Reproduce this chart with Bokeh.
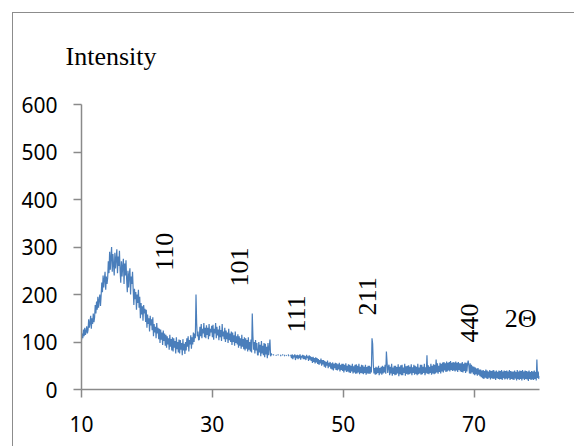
import numpy as np
from bokeh.plotting import figure
from bokeh.models import Range1d, FixedTicker, Label, ColumnDataSource, InlineStyleSheet
from bokeh.core.properties import value
from bokeh.embed import file_html
from bokeh.resources import INLINE

nan = float("nan")

two_theta_start = 10.0
two_theta_step = 0.1
intensity = [
    104, 118, 108, 126, 112, 130, 115, 122, 133, 118,   # 10
    125, 148, 130, 140, 155, 128, 150, 138, 160, 142,   # 11
    152, 178, 160, 185, 168, 195, 172, 188, 200, 176,   # 12
    198, 225, 205, 240, 215, 232, 248, 210, 238, 222,   # 13
    235, 270, 245, 290, 252, 280, 300, 248, 285, 262,   # 14
    240, 288, 255, 275, 295, 245, 280, 260, 292, 250,   # 15
    225, 270, 238, 260, 275, 222, 265, 240, 272, 232,   # 16
    205, 250, 215, 242, 255, 200, 238, 222, 248, 210,   # 17
    178, 212, 190, 205, 168, 200, 182, 210, 172, 195,   # 18
    150, 182, 158, 175, 145, 178, 160, 170, 142, 168,   # 19
    130, 158, 138, 150, 122, 155, 135, 148, 125, 152,   # 20
    112, 138, 120, 132, 108, 140, 118, 130, 106, 128,   # 21
    98, 126, 105, 120, 94, 124, 102, 118, 92, 115,      # 22
    88, 112, 95, 108, 84, 115, 90, 106, 82, 110,        # 23
    80, 108, 88, 102, 76, 110, 85, 100, 78, 105,        # 24
    76, 104, 84, 98, 72, 106, 82, 96, 75, 100,          # 25
    82, 108, 90, 112, 80, 104, 95, 114, 86, 110,        # 26
    95, 120, 100, 118, 108, 200, 140, 112, 122, 104,    # 27
    105, 132, 112, 138, 108, 128, 118, 140, 110, 130,   # 28
    108, 135, 115, 130, 106, 138, 112, 128, 120, 134,   # 29
    110, 136, 105, 128, 118, 140, 108, 132, 114, 126,   # 30
    104, 134, 110, 125, 102, 138, 112, 122, 106, 130,   # 31
    100, 124, 106, 120, 98, 128, 104, 118, 100, 122,    # 32
    94, 120, 100, 114, 92, 122, 98, 112, 95, 116,       # 33
    88, 112, 92, 108, 86, 115, 90, 106, 85, 110,        # 34
    82, 108, 86, 104, 80, 110, 84, 100, 80, 105,        # 35
    78, 160, 112, 84, 100, 76, 104, 82, 98, 74,         # 36
    72, 100, 78, 94, 70, 102, 76, 92, 72, 98,           # 37
    68, 96, 74, 90, 66, 98, 72, 88, 105, 70,            # 38
    76, 72, nan, 74, 72, nan, nan, 73, 71, nan,         # 39
    72, 74, nan, nan, 73, 70, nan, 72, 74, nan,         # 40
    70, 73, nan, 72, 71, nan, 74, 70, nan, 72,          # 41
    72, 66, 74, 64, 72, 68, 74, 62, 72, 66,             # 42
    73, 64, 72, 66, 74, 63, 71, 67, 73, 64,             # 43
    72, 64, 70, 62, 73, 66, 70, 60, 72, 63,             # 44
    70, 60, 68, 56, 69, 58, 66, 55, 68, 57,             # 45
    66, 54, 64, 52, 62, 55, 65, 50, 62, 53,             # 46
    62, 48, 60, 46, 58, 50, 61, 45, 56, 48,             # 47
    58, 44, 55, 42, 57, 40, 54, 45, 56, 41,             # 48
    55, 40, 53, 42, 56, 38, 52, 41, 54, 39,             # 49
    54, 36, 52, 40, 55, 37, 50, 38, 53, 36,             # 50
    52, 35, 50, 38, 54, 34, 49, 36, 52, 33,             # 51
    53, 34, 50, 36, 54, 32, 48, 35, 52, 34,             # 52
    51, 32, 48, 35, 52, 31, 47, 34, 50, 33,             # 53
    50, 33, 48, 36, 108, 96, 52, 34, 45, 31,            # 54
    48, 32, 46, 35, 50, 30, 45, 34, 48, 31,             # 55
    50, 34, 48, 36, 52, 33, 80, 58, 35, 48,             # 56
    52, 30, 48, 34, 54, 29, 46, 33, 50, 30,             # 57
    50, 31, 47, 34, 53, 28, 48, 32, 51, 30,             # 58
    52, 30, 46, 35, 54, 29, 49, 33, 50, 31,             # 59
    51, 32, 48, 34, 53, 30, 47, 35, 52, 31,             # 60
    50, 33, 48, 30, 54, 32, 46, 34, 52, 31,             # 61
    52, 32, 48, 35, 54, 30, 47, 34, 72, 33,             # 62
    51, 32, 48, 35, 54, 31, 50, 34, 53, 32,             # 63
    52, 34, 63, 36, 55, 33, 50, 37, 56, 34,             # 64
    54, 38, 57, 36, 58, 40, 55, 37, 59, 38,             # 65
    56, 40, 58, 38, 60, 41, 56, 39, 58, 40,             # 66
    57, 38, 59, 40, 56, 37, 58, 41, 55, 38,             # 67
    55, 37, 58, 36, 54, 39, 57, 35, 56, 38,             # 68
    54, 61, 50, 34, 55, 33, 52, 36, 49, 32,             # 69
    48, 30, 46, 32, 44, 29, 45, 31, 42, 28,             # 70
    42, 26, 40, 24, 41, 22, 39, 25, 42, 23,             # 71
    40, 22, 38, 25, 41, 21, 39, 24, 40, 22,             # 72
    41, 23, 38, 20, 40, 24, 37, 22, 40, 21,             # 73
    39, 22, 41, 20, 38, 24, 40, 21, 39, 23,             # 74
    40, 21, 38, 24, 41, 20, 39, 22, 38, 21,             # 75
    38, 20, 40, 23, 37, 19, 41, 22, 38, 20,             # 76
    40, 22, 39, 19, 41, 23, 38, 20, 40, 22,             # 77
    39, 21, 38, 18, 40, 22, 37, 20, 39, 21,             # 78
    38, 20, 40, 22, 37, 19, 63, 24, 38, 22,             # 79
    28,                                                 # 80
]
two_theta = two_theta_start + two_theta_step * np.arange(len(intensity))

# peak annotations (Miller indices), anchored at 2-theta / intensity
peak_labels = ["110", "101", "111", "211", "440"]
peak_x = [22.7, 34.2, 42.9, 53.7, 69.3]
peak_y = [250, 217, 120, 156, 99]

x_ticks = [10, 30, 50, 70]
y_ticks = [0, 100, 200, 300, 400, 500, 600]

W, H = 574, 446
p = figure(width=W, height=H, output_backend="svg", toolbar_location=None,
           x_range=Range1d(10, 80), y_range=Range1d(0, 600),
           min_border_left=81, min_border_right=35, min_border_top=104, min_border_bottom=57)
p.outline_line_color = None
p.grid.visible = False
p.background_fill_color = "white"
p.border_fill_color = "white"

p.title.text = "Intensity"
p.title.text_font = "Liberation Serif"
p.title.text_font_size = "26px"
p.title.text_font_style = "normal"
p.title.text_color = "black"
p.title.align = "left"
p.title.offset = -16
p.title.standoff = 68

for ax in (p.xaxis[0], p.yaxis[0]):
    ax.axis_line_color = "#8a8a8a"
    ax.axis_line_width = 1.5
    ax.major_tick_line_color = "#8a8a8a"
    ax.major_tick_line_width = 1.5
    ax.major_tick_out = 8
    ax.major_tick_in = 0
    ax.minor_tick_line_color = None
    ax.major_label_text_font = "Noto Sans"
    ax.major_label_text_font_size = "21px"
    ax.major_label_text_color = "black"
p.xaxis[0].ticker = FixedTicker(ticks=x_ticks)
p.yaxis[0].ticker = FixedTicker(ticks=y_ticks)
p.xaxis[0].major_label_standoff = 18
p.yaxis[0].major_label_standoff = 16

src = ColumnDataSource(dict(x=two_theta, y=np.array(intensity, dtype=float)))
p.line("x", "y", source=src, line_color="#4a7ebb", line_width=1.2)

p.text(x=peak_x, y=peak_y, text=peak_labels, angle=np.pi / 2,
       text_align="left", text_baseline="middle",
       text_font=value("Liberation Serif"), text_font_size="26px", text_color="black")

p.add_layout(Label(x=74.7, y=149, text="2Θ", text_font="Liberation Serif",
                   text_font_size="26px", text_color="black",
                   text_align="left", text_baseline="middle"))

# outer chart border (left and top edges visible)
p.stylesheets = [InlineStyleSheet(css="""
:host { position: relative; }
:host::after {
  content: "";
  position: absolute;
  left: 12px; top: 12px; right: -20px; bottom: -20px;
  border-left: 1.5px solid #8c8c8c;
  border-top: 1.5px solid #8c8c8c;
  pointer-events: none;
}
""")]

open("out.html", "w").write(file_html(p, INLINE))
